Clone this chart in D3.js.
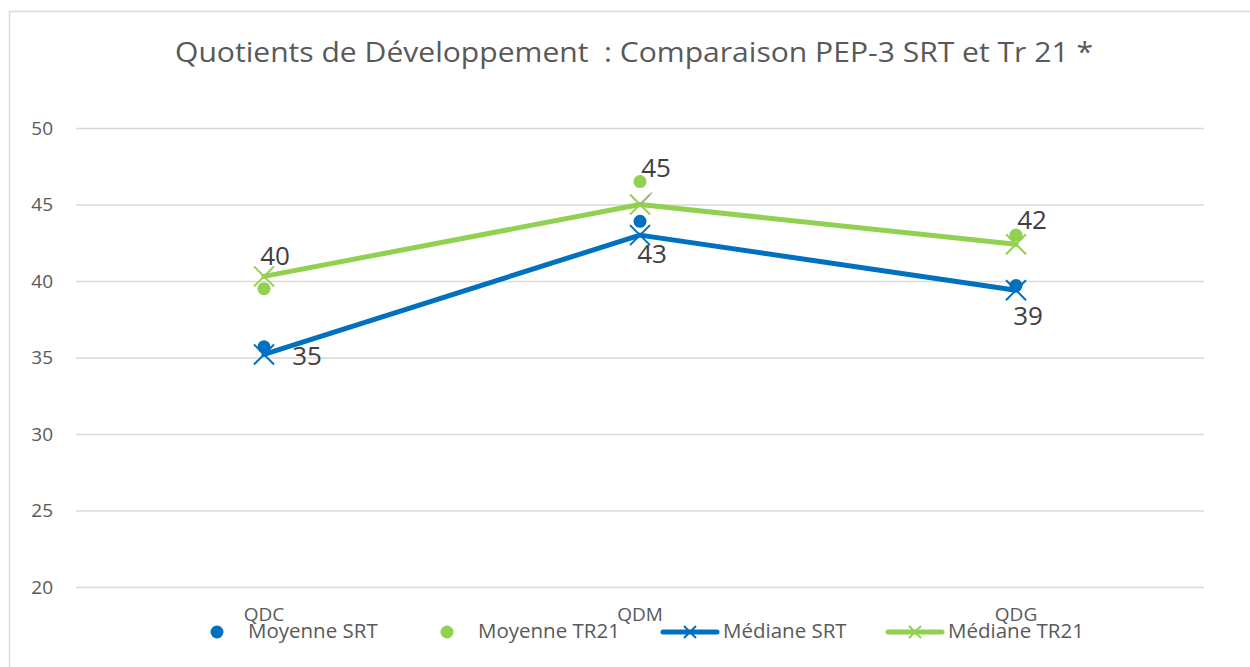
<!DOCTYPE html>
<html>
<head>
<meta charset="utf-8">
<script src="https://cdn.jsdelivr.net/npm/d3@7"></script>
<style>
	body { margin: 0; background: #fff; }
	text { font-family: "Open Sans", "Liberation Sans", sans-serif; }
</style>
</head>
<body>
<svg id="chart" width="1250" height="667"></svg>
<script>

// categories and series values
var categories = ["QDC", "QDM", "QDG"];
var moyenneSRT = [35.7, 43.9, 39.7];
var moyenneTR21 = [39.5, 46.5, 43.0];
var medianeSRT = [35.2, 43.0, 39.4];
var medianeTR21 = [40.3, 45.0, 42.4];
var yTicks = [20, 25, 30, 35, 40, 45, 50];

var blue = "#0070c0";
var green = "#92d050";
var textColour = "#595959";

var svg = d3.select("#chart");

var margin = { left: 76, right: 1204, top: 128, bottom: 587 };

var x = d3.scaleBand()
			.domain(categories)
			.range([margin.left, margin.right]);

var y = d3.scaleLinear()
			.domain([20, 50])
			.range([margin.bottom, margin.top]);

function cx(i) { return x(categories[i]) + x.bandwidth() / 2; }

// chart frame
svg.append("rect")
	.attr("x", 9.5).attr("y", 11.5)
	.attr("width", 1250).attr("height", 700)
	.style("fill", "none")
	.style("stroke", "#d9d9d9")
	.style("stroke-width", 1.5);

// title
svg.append("text")
	.attr("x", 634).attr("y", 62)
	.attr("text-anchor", "middle")
	.attr("textLength", 918)
	.attr("lengthAdjust", "spacingAndGlyphs")
	.style("white-space", "pre")
	.style("font-size", "28px")
	.style("fill", textColour)
	.text("Quotients de Développement  : Comparaison PEP-3 SRT et Tr 21 *");

// gridlines and y axis
var yAxis = d3.axisLeft(y)
				.tickValues(yTicks)
				.tickSize(-(margin.right - margin.left))
				.tickPadding(23);

var gy = svg.append("g")
			.attr("transform", "translate(" + margin.left + ",0)")
			.call(yAxis);

gy.select(".domain").remove();
gy.selectAll("line").style("stroke", "#d9d9d9").style("stroke-width", 1.3);
gy.selectAll("text")
	.style("font-size", "19px")
	.style("fill", textColour)
	.style("font-family", "\"Open Sans\", sans-serif");

// x axis labels (no line)
var xAxis = d3.axisBottom(x).tickSize(0).tickPadding(21);
var gx = svg.append("g")
			.attr("transform", "translate(0," + margin.bottom + ")")
			.call(xAxis);
gx.select(".domain").remove();
gx.selectAll("text")
	.style("font-size", "19px")
	.style("fill", textColour)
	.style("font-family", "\"Open Sans\", sans-serif");

var line = d3.line()
			.x(function(d, i) { return cx(i); })
			.y(function(d) { return y(d); });

function drawCross(g, px, py, colour) {
	var s = 10;
	g.append("path")
		.attr("d", "M" + (px - s) + "," + (py - s) + "L" + (px + s) + "," + (py + s) +
				   "M" + (px - s) + "," + (py + s) + "L" + (px + s) + "," + (py - s))
		.style("stroke", colour)
		.style("stroke-width", 2)
		.style("fill", "none");
}

// median lines
[[medianeSRT, blue], [medianeTR21, green]].forEach(function(s) {
	svg.append("path")
		.datum(s[0])
		.attr("d", line)
		.style("fill", "none")
		.style("stroke", s[1])
		.style("stroke-width", 5)
		.style("stroke-linejoin", "round")
		.style("stroke-linecap", "round");
});

// mean dots
[[moyenneSRT, blue], [moyenneTR21, green]].forEach(function(s) {
	svg.append("g")
		.selectAll("circle")
		.data(s[0]).enter()
		.append("circle")
		.attr("cx", function(d, i) { return cx(i); })
		.attr("cy", function(d) { return y(d); })
		.attr("r", 6.5)
		.style("fill", s[1]);
});

// median crosses
var crosses = svg.append("g");
medianeSRT.forEach(function(d, i) { drawCross(crosses, cx(i), y(d), blue); });
medianeTR21.forEach(function(d, i) { drawCross(crosses, cx(i), y(d), green); });

// small leader line near QDM label
svg.append("line")
	.attr("x1", cx(1)).attr("y1", y(medianeTR21[1]))
	.attr("x2", cx(1) + 12).attr("y2", y(medianeTR21[1]) - 12)
	.style("stroke", "#a6a6a6")
	.style("stroke-width", 1.3);

// data labels (rounded medians)
var labelOffsets = {
	srt: [[43, 4], [12, 21], [12, 28]],
	tr21: [[11, -18], [16, -34], [16, -22]]
};

function addLabels(values, offsets) {
	svg.append("g")
		.selectAll("text")
		.data(values).enter()
		.append("text")
		.attr("x", function(d, i) { return cx(i) + offsets[i][0]; })
		.attr("y", function(d, i) { return y(d) + offsets[i][1]; })
		.attr("text-anchor", "middle")
		.attr("dominant-baseline", "middle")
		.style("font-size", "26px")
		.style("fill", "#404040")
		.text(function(d) { return Math.floor(d); });
}

addLabels(medianeSRT, labelOffsets.srt);
addLabels(medianeTR21, labelOffsets.tr21);

// legend
var legend = svg.append("g").attr("transform", "translate(0,632)");
var legendItems = [
	{ name: "Moyenne SRT", colour: blue, type: "dot", x: 217 },
	{ name: "Moyenne TR21", colour: green, type: "dot", x: 447 },
	{ name: "Médiane SRT", colour: blue, type: "line", x: 663 },
	{ name: "Médiane TR21", colour: green, type: "line", x: 888 }
];

legendItems.forEach(function(item) {
	var textX;
	if (item.type == "dot") {
		legend.append("circle")
			.attr("cx", item.x).attr("cy", 0).attr("r", 6.5)
			.style("fill", item.colour);
		textX = item.x + 31;
	} else {
		legend.append("line")
			.attr("x1", item.x).attr("x2", item.x + 54)
			.attr("y1", 0).attr("y2", 0)
			.style("stroke", item.colour)
			.style("stroke-width", 5)
			.style("stroke-linecap", "round");
		legend.append("path")
			.attr("d", "M" + (item.x + 21) + ",-6L" + (item.x + 33) + ",6M" +
					   (item.x + 21) + ",6L" + (item.x + 33) + ",-6")
			.style("stroke", item.colour)
			.style("stroke-width", 2);
		textX = item.x + 60;
	}
	legend.append("text")
		.attr("x", textX).attr("y", 1)
		.attr("dominant-baseline", "middle")
		.style("font-size", "20.5px")
		.style("fill", textColour)
		.text(item.name);
});

</script>
</body>
</html>
